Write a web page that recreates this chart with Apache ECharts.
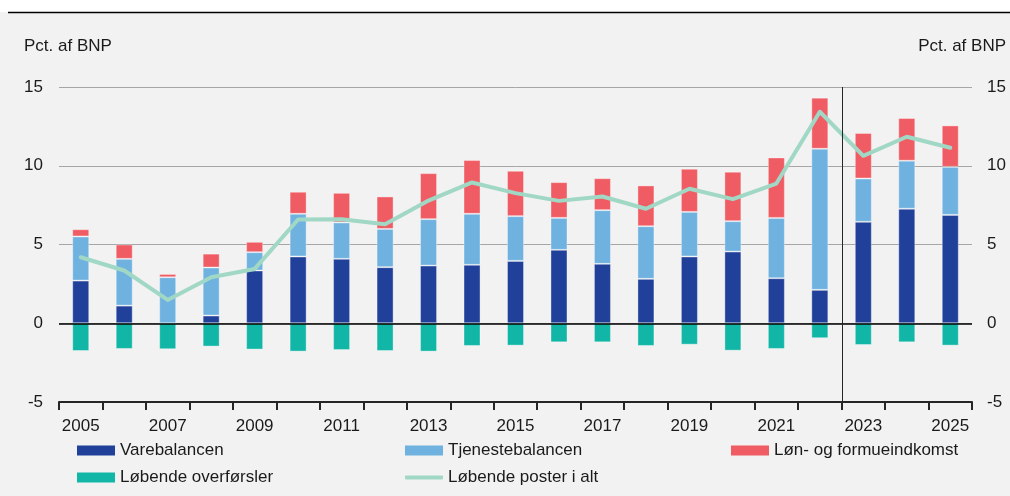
<!DOCTYPE html>
<html>
<head>
<meta charset="utf-8">
<script src="https://cdn.jsdelivr.net/npm/echarts@6/dist/echarts.min.js"></script>
<style>
  html, body { margin: 0; padding: 0; background: #f2f2f2; }
  #chart { width: 1010px; height: 496px; }
</style>
</head>
<body>
<div id="chart"></div>
<script>
// Betalingsbalancens løbende poster, pct. af BNP
const years = ['2005','2006','2007','2008','2009','2010','2011','2012','2013','2014','2015',
               '2016','2017','2018','2019','2020','2021','2022','2023','2024','2025'];
const varebalancen   = [2.71,1.12,0.00,0.49,3.35,4.24,4.09,3.56,3.66,3.71,3.96,4.66,3.77,2.82,4.24,4.55,2.86,2.12,6.44,7.27,6.88];
const tjenestebal    = [2.80,2.97,2.92,3.05,1.16,2.71,2.31,2.43,2.95,3.24,2.84,2.03,3.41,3.34,2.83,1.93,3.83,8.96,2.75,3.05,3.05];
const formueindkomst = [0.46,0.91,0.21,0.88,0.66,1.40,1.88,2.06,2.92,3.41,2.88,2.27,2.03,2.59,2.74,3.14,3.84,3.24,2.89,2.71,2.63];
const overfoersler   = [-1.76,-1.63,-1.65,-1.48,-1.67,-1.80,-1.70,-1.76,-1.80,-1.44,-1.42,-1.21,-1.21,-1.44,-1.36,-1.74,-1.63,-0.95,-1.38,-1.21,-1.42];
const posterIAlt     = [4.19,3.35,1.48,2.92,3.45,6.59,6.61,6.29,7.79,8.94,8.26,7.77,8.05,7.27,8.54,7.88,8.87,13.43,10.63,11.84,11.14];
const yTicks = { min: -5, max: 15, interval: 5 };
const forecastStart = '2023';

const FONT = '"Liberation Sans", Arial, sans-serif';
const TXT = '#1a1a1a';
const C = { vare: '#21409a', tjen: '#6fb2e0', loen: '#f05c63', overf: '#12b6a6', total: '#a0d8c5' };

const chart = echarts.init(document.getElementById('chart'), null, { renderer: 'canvas' });

const barBase = {
  type: 'bar', stack: 'lp', barWidth: 17,
  itemStyle: { borderColor: 'rgba(255,255,255,0.35)', borderWidth: 1 },
  emphasis: { disabled: true }
};

const legendBase = {
  orient: 'horizontal', itemWidth: 38, itemHeight: 10, icon: 'rect', selectedMode: false,
  itemStyle: { borderWidth: 0 },
  textStyle: { fontFamily: FONT, fontSize: 17, color: TXT, padding: [0, 0, 0, 0] }
};

chart.setOption({
  backgroundColor: '#f2f2f2',
  animation: false,
  textStyle: { fontFamily: FONT },
  grid: { left: 59, right: 38, top: 87, bottom: 94 },
  legend: [
    Object.assign({}, legendBase, { data: ['Varebalancen'], left: 72, top: 437 }),
    Object.assign({}, legendBase, { data: ['Tjenestebalancen'], left: 400, top: 437 }),
    Object.assign({}, legendBase, { data: ['Løn- og formueindkomst'], left: 726, top: 437 }),
    Object.assign({}, legendBase, { data: ['Løbende overførsler'], left: 72, top: 464 }),
    Object.assign({}, legendBase, { data: ['Løbende poster i alt'], left: 400, top: 464, itemHeight: 4, icon: 'roundRect' })
  ],
  xAxis: {
    type: 'category', data: years, boundaryGap: true,
    axisLine: { show: true, onZero: false, lineStyle: { color: '#262626', width: 2 } },
    axisTick: { show: true, interval: 0, alignWithLabel: false, length: 8, inside: false, lineStyle: { color: '#262626', width: 2 } },
    axisLabel: { interval: 1, margin: 16, fontSize: 17, color: TXT, fontFamily: FONT },
    splitLine: { show: false }
  },
  yAxis: [
    {
      type: 'value', min: yTicks.min, max: yTicks.max, interval: yTicks.interval,
      axisLine: { show: false }, axisTick: { show: false },
      axisLabel: { margin: 16, fontSize: 17, color: TXT, fontFamily: FONT },
      splitLine: { lineStyle: { color: '#a6a6a6', width: 1 } }
    },
    {
      type: 'value', position: 'right', min: yTicks.min, max: yTicks.max, interval: yTicks.interval,
      axisLine: { show: false }, axisTick: { show: false },
      axisLabel: { margin: 15, fontSize: 17, color: TXT, fontFamily: FONT },
      splitLine: { show: false }
    }
  ],
  series: [
    Object.assign({}, barBase, { name: 'Varebalancen', data: varebalancen, itemStyle: Object.assign({}, barBase.itemStyle, { color: C.vare }) }),
    Object.assign({}, barBase, { name: 'Tjenestebalancen', data: tjenestebal, itemStyle: Object.assign({}, barBase.itemStyle, { color: C.tjen }) }),
    Object.assign({}, barBase, { name: 'Løn- og formueindkomst', data: formueindkomst, itemStyle: Object.assign({}, barBase.itemStyle, { color: C.loen }) }),
    Object.assign({}, barBase, { name: 'Løbende overførsler', data: overfoersler, itemStyle: Object.assign({}, barBase.itemStyle, { color: C.overf }) }),
    {
      name: 'Løbende poster i alt', type: 'line', data: posterIAlt, z: 5,
      symbol: 'none', showSymbol: false,
      lineStyle: { color: C.total, width: 4, cap: 'round', join: 'round' },
      itemStyle: { color: C.total },
      emphasis: { disabled: true },
      markLine: {
        silent: true, symbol: 'none', label: { show: false },
        lineStyle: { color: '#000', width: 1.5, type: 'solid' },
        data: [{ yAxis: 0 }]
      }
    }
  ]
});

// Forecast divider between the last actual year and the first projected year,
// plus the axis captions and the header rule.
const xPrev = chart.convertToPixel({ xAxisIndex: 0 }, years[years.indexOf(forecastStart) - 1]);
const xNext = chart.convertToPixel({ xAxisIndex: 0 }, forecastStart);
const xDiv = Math.round((xPrev + xNext) / 2) + 0.5;
const yTop = chart.convertToPixel({ yAxisIndex: 0 }, yTicks.max);
const yBot = chart.convertToPixel({ yAxisIndex: 0 }, yTicks.min);

chart.setOption({
  graphic: [
    { type: 'rect', shape: { x: 0, y: 0, width: 1010, height: 12 }, style: { fill: '#ffffff' }, silent: true },
    { type: 'line', shape: { x1: 8, y1: 12.5, x2: 1010, y2: 12.5 }, style: { stroke: '#000', lineWidth: 1.5 }, silent: true },
    { type: 'line', z: 10, shape: { x1: xDiv, y1: yTop, x2: xDiv, y2: yBot }, style: { stroke: '#262626', lineWidth: 1 }, silent: true },
    { type: 'text', left: 24, top: 38, style: { text: 'Pct. af BNP', font: '17px ' + FONT, fill: TXT }, silent: true },
    { type: 'text', right: 4, top: 38, style: { text: 'Pct. af BNP', font: '17px ' + FONT, fill: TXT }, silent: true }
  ]
});
</script>
</body>
</html>
